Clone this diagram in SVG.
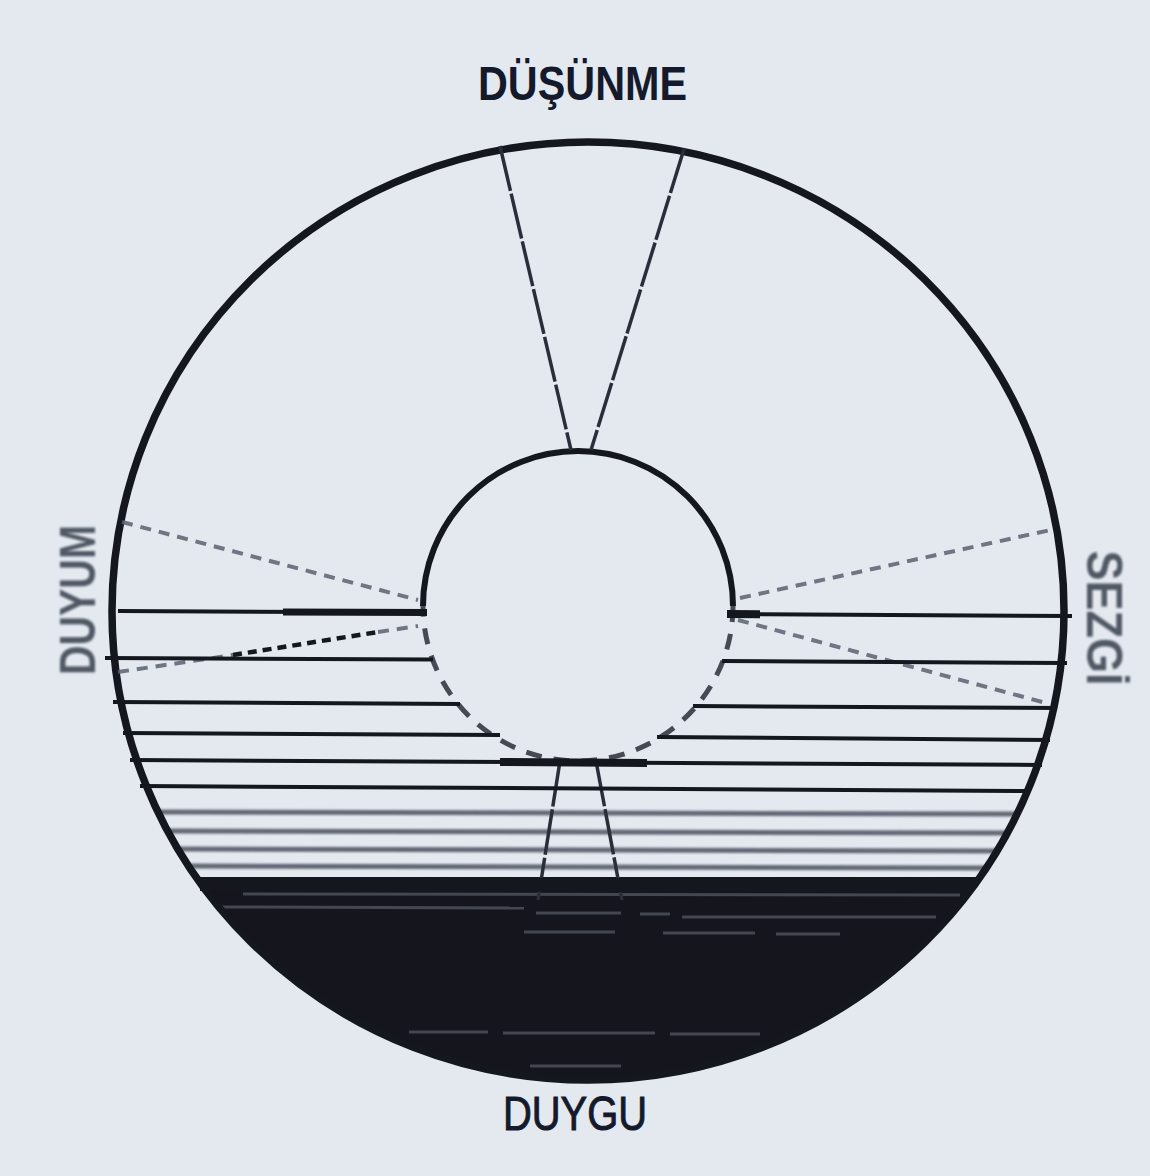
<svg xmlns="http://www.w3.org/2000/svg" width="1150" height="1176" viewBox="0 0 1150 1176">
  <defs>
    <style>
      .ink { stroke: #15171f; fill: none; }
      .hatch { stroke: #15171f; fill: none; stroke-width: 4; }
      .thick { stroke: #15171f; fill: none; stroke-width: 8; }
      .blur { stroke: #3a3f4d; fill: none; stroke-width: 5; opacity: 0.75; }
      .spoke { stroke: #2a2e39; fill: none; stroke-width: 3.5; stroke-dasharray: 46 3; }
      .gspoke { stroke: #5a6070; fill: none; stroke-width: 4; stroke-dasharray: 11 8; opacity: 0.85; }
      .streak { stroke: #7d8392; fill: none; stroke-width: 3; opacity: 0.45; }
      .label { font-family: "Liberation Sans", Arial, sans-serif; fill: #141a2b; }
    </style>
    <clipPath id="outerClip">
      <ellipse cx="588" cy="611" rx="476" ry="469"/>
    </clipPath>
    <filter id="soft" x="-5%" y="-50%" width="110%" height="200%">
      <feGaussianBlur stdDeviation="1.3"/>
    </filter>
    <filter id="softText" x="-10%" y="-10%" width="120%" height="120%">
      <feGaussianBlur stdDeviation="0.9"/>
    </filter>
  </defs>

  <rect x="0" y="0" width="1150" height="1176" fill="#e3e9ef"/>

  <!-- dark base (feeling) -->
  <g id="dark-base" clip-path="url(#outerClip)">
    <rect x="100" y="877" width="960" height="220" fill="#15161d"/>
    <line class="streak" x1="243" y1="894" x2="960" y2="895" opacity="0.35"/>
    <line class="streak" x1="221" y1="907" x2="524" y2="908" opacity="0.25"/>
    <line class="streak" x1="536" y1="913" x2="621" y2="913"/>
    <line class="streak" x1="640" y1="914" x2="670" y2="914"/>
    <line class="streak" x1="682" y1="917" x2="936" y2="917" opacity="0.35"/>
    <line class="streak" x1="524" y1="932" x2="615" y2="932"/>
    <line class="streak" x1="663" y1="933" x2="755" y2="933"/>
    <line class="streak" x1="776" y1="934" x2="840" y2="934"/>
    <line class="streak" x1="409" y1="1032" x2="488" y2="1032"/>
    <line class="streak" x1="503" y1="1033" x2="655" y2="1033"/>
    <line class="streak" x1="670" y1="1034" x2="760" y2="1034"/>
    <line class="streak" x1="530" y1="1066" x2="621" y2="1066"/>
  </g>

  <!-- blurred hatching -->
  <g id="blur-hatching" filter="url(#soft)">
    <line class="blur" x1="158" y1="812" x2="1018" y2="814"/>
    <line class="blur" x1="168" y1="831" x2="1008" y2="833"/>
    <line class="blur" x1="178" y1="849" x2="998" y2="851"/>
    <line class="blur" x1="188" y1="866" x2="988" y2="868"/>
  </g>

  <!-- outer circle -->
  <g id="outer-circle">
    <ellipse class="ink" cx="588" cy="611" rx="476" ry="469" stroke-width="7.5"/>
  </g>

  <!-- inner circle -->
  <g id="inner-circle">
    <path class="ink" stroke-width="6" d="M423,606 A155,155 0 0 1 733,606"/>
    <path d="M733,606 A155,155 0 0 1 423,606" fill="none" stroke="#2a2e39" stroke-width="5" stroke-dasharray="16 12" opacity="0.85"/>
  </g>

  <!-- spokes -->
  <g id="connectors">
    <line class="spoke" x1="500" y1="146" x2="571" y2="450"/>
    <line class="spoke" x1="684" y1="149" x2="591" y2="450"/>
    <line class="gspoke" x1="122" y1="522" x2="418" y2="600"/>
    <line class="gspoke" x1="118" y1="672" x2="233" y2="655"/>
    <line x1="233" y1="655" x2="378" y2="632" stroke="#15171f" stroke-width="4.5" stroke-dasharray="9 6"/>
    <line class="gspoke" x1="378" y1="632" x2="418" y2="626"/>
    <line class="gspoke" x1="740" y1="598" x2="1055" y2="529"/>
    <line class="gspoke" x1="738" y1="620" x2="1046" y2="703"/>
    <line class="spoke" x1="560" y1="761" x2="538" y2="900"/>
    <line class="spoke" x1="596" y1="761" x2="622" y2="900"/>
  </g>

  <!-- sharp hatching -->
  <g id="hatching">
    <line class="hatch" x1="118" y1="611" x2="427" y2="612.5"/>
    <line class="ink" stroke-width="7" x1="283" y1="612" x2="427" y2="612.5"/>
    <line class="hatch" x1="727" y1="614" x2="1072" y2="616"/>
    <line class="ink" stroke-width="8" x1="727" y1="614" x2="760" y2="614.2"/>
    <line class="hatch" x1="105" y1="658" x2="433" y2="659.5"/>
    <line class="hatch" x1="722" y1="661" x2="1067" y2="663"/>
    <line class="hatch" x1="113" y1="702" x2="460" y2="704"/>
    <line class="hatch" x1="693" y1="706" x2="1057" y2="708"/>
    <line class="hatch" x1="123" y1="733" x2="500" y2="735"/>
    <line class="hatch" x1="657" y1="737" x2="1050" y2="740"/>
    <line class="hatch" x1="130" y1="760" x2="1042" y2="765"/>
    <line class="thick" x1="500" y1="762" x2="647" y2="763"/>
    <line class="hatch" x1="140" y1="786" x2="1030" y2="791"/>
    <line class="ink" stroke-width="14" x1="200" y1="884" x2="970" y2="886"/>
  </g>

  <!-- labels -->
  <g id="label-dusunme">
    <text class="label" x="478" y="100" font-size="48" font-weight="bold" textLength="209" lengthAdjust="spacingAndGlyphs">DÜŞÜNME</text>
  </g>
  <g id="label-duygu">
    <text class="label" x="503" y="1130" font-size="48" stroke="#141a2b" stroke-width="1" textLength="144" lengthAdjust="spacingAndGlyphs">DUYGU</text>
  </g>
  <g id="label-duyum" transform="translate(95,600) rotate(-90)" filter="url(#softText)">
    <text class="label" x="0" y="0" font-size="50" font-weight="bold" text-anchor="middle" textLength="150" lengthAdjust="spacingAndGlyphs" fill-opacity="0.7">DUYUM</text>
  </g>
  <g id="label-sezgi" transform="translate(1087,618) rotate(90)" filter="url(#softText)">
    <text class="label" x="0" y="0" font-size="50" font-weight="bold" text-anchor="middle" textLength="135" lengthAdjust="spacingAndGlyphs" fill-opacity="0.7">SEZGİ</text>
  </g>
</svg>
